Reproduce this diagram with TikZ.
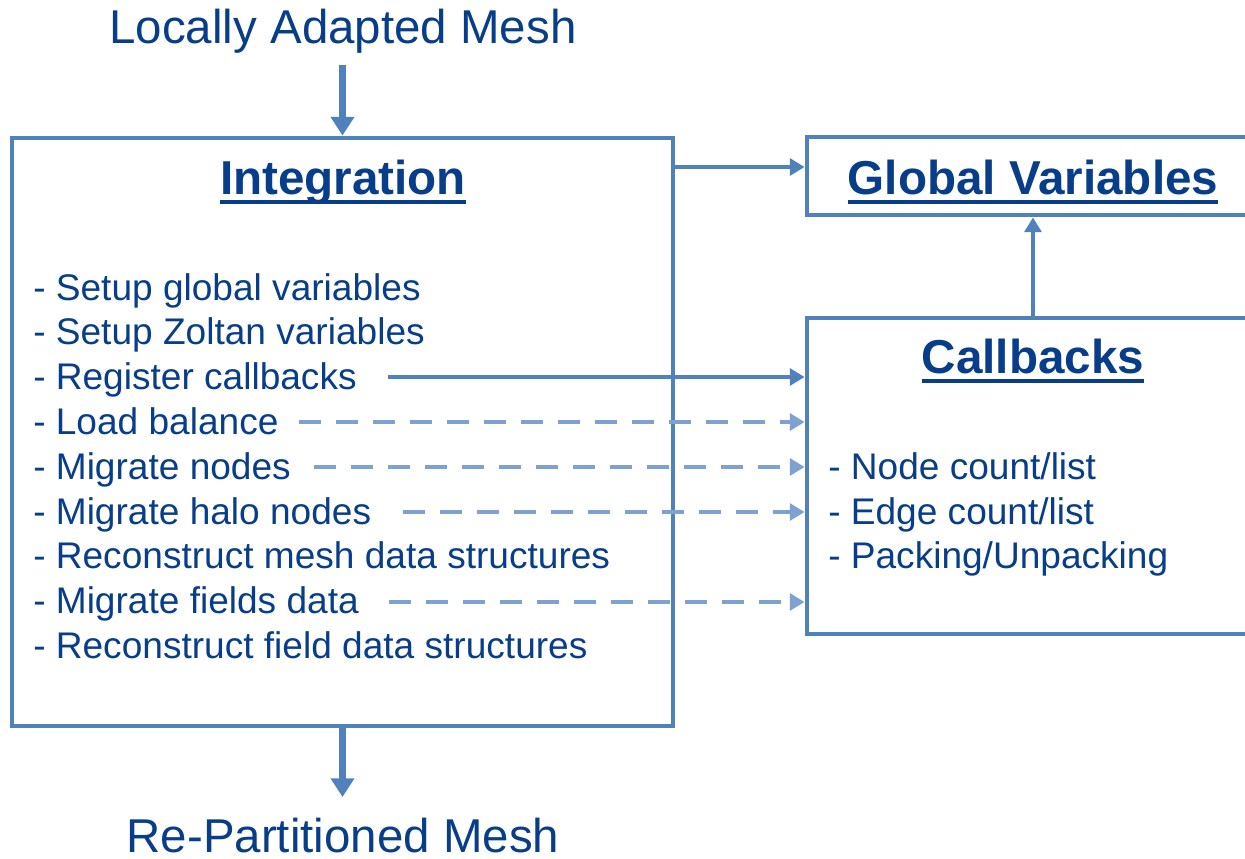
\documentclass[tikz,border=0pt]{standalone}
\usepackage{fontspec}
\setmainfont{Liberation Sans}
\usetikzlibrary{arrows.meta,calc}
\definecolor{boxblue}{RGB}{79,129,189}
\definecolor{dashblue}{RGB}{126,161,210}
\definecolor{txtblue}{RGB}{8,62,137}
\tikzset{
  box/.style={draw=boxblue,line width=3.6pt,fill=none,inner sep=0pt},
  big/.style={font=\fontsize{35.6}{40}\selectfont,text=txtblue,inner sep=0pt},
  head/.style={font=\fontsize{35.7}{40}\selectfont\bfseries,text=txtblue,inner sep=0pt,anchor=base},
  item/.style={font=\fontsize{27.8}{33}\selectfont,text=txtblue,inner sep=0pt,anchor=base west},
  ul/.style={draw=txtblue,line width=3.2pt},
  bigarr/.style={draw=boxblue,line width=4.8pt,-{Triangle[length=14pt,width=17pt]}},
  arr/.style={draw=boxblue,line width=3.5pt,-{Triangle[length=11pt,width=12.5pt]}},
  darr/.style={draw=dashblue,line width=3.5pt,dash pattern=on 16.5pt off 11.25pt,-{Triangle[length=11pt,width=12.5pt]}},
}
\begin{document}
\begin{tikzpicture}[x=0.75pt,y=-0.75pt]
\useasboundingbox (0,0) rectangle (1245,858);
\clip (0,0) rectangle (1245,858);
% titles
\node[big,anchor=base] (top) at (343,43) {Locally Adapted Mesh};
\node[big,anchor=base] (bot) at (343,852) {Re-Partitioned Mesh};
% boxes
\node[box,minimum width=495.75pt,minimum height=441pt] (integ) at (342.5,432) {};
\node[box,minimum width=339pt,minimum height=58.5pt] (glob) at (1033,176) {};
\node[box,minimum width=339pt,minimum height=237pt] (cb) at (1033,476) {};
% headings
\node[head] (hint) at (343,194) {Integration};
\node[head] (hglob) at (1033,194) {Global Variables};
\node[head] (hcb) at (1033,373) {Callbacks};
\draw[ul] ([yshift=-6pt]hint.base west) -- ([yshift=-6pt]hint.base east);
\draw[ul] ([yshift=-6pt]hglob.base west) -- ([yshift=-6pt]hglob.base east);
\draw[ul] ([yshift=-6pt]hcb.base west) -- ([yshift=-6pt]hcb.base east);
% integration list
\node[item] (l1) at (33,300) {- Setup global variables};
\node[item] (l2) at (33,344) {- Setup Zoltan variables};
\node[item] (l3) at (33,389) {- Register callbacks};
\node[item] (l4) at (33,434) {- Load balance};
\node[item] (l5) at (33,479) {- Migrate nodes};
\node[item] (l6) at (33,524) {- Migrate halo nodes};
\node[item] (l7) at (33,568) {- Reconstruct mesh data structures};
\node[item] (l8) at (33,613) {- Migrate fields data};
\node[item] (l9) at (33,658) {- Reconstruct field data structures};
% callbacks list
\node[item] (c1) at (828,479) {- Node count/list};
\node[item] (c2) at (828,524) {- Edge count/list};
\node[item] (c3) at (828,568) {- Packing/Unpacking};
% connectors
\draw[bigarr] (integ.north |- 0,65) -- (integ.north);
\draw[bigarr] (integ.south) -- (integ.south |- 0,797);
\draw[arr] (integ.east |- 0,167) -- (glob.west |- 0,167);
\draw[arr] (cb.north) -- (glob.south);
\coordinate (s3) at ([shift={(31,-12)}]l3.base east);
\draw[arr] (s3) -- (cb.west |- s3);
\coordinate (s4) at ([shift={(20,-12)}]l4.base east);
\draw[darr] (s4) -- (cb.west |- s4);
\coordinate (s5) at ([shift={(23,-12)}]l5.base east);
\draw[darr] (s5) -- (cb.west |- s5);
\coordinate (s6) at ([shift={(32,-12)}]l6.base east);
\draw[darr] (s6) -- (cb.west |- s6);
\coordinate (s8) at ([shift={(30,-11)}]l8.base east);
\draw[darr] (s8) -- (cb.west |- s8);
\end{tikzpicture}
\end{document}
